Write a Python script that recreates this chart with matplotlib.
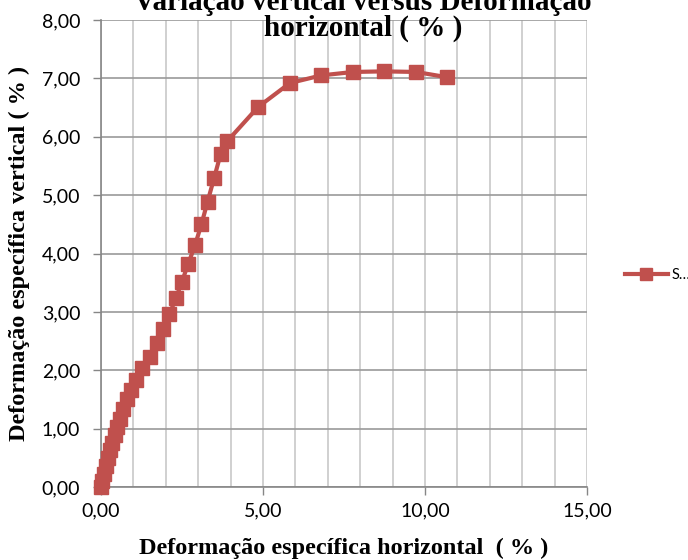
import matplotlib
matplotlib.use('Agg')
import matplotlib.pyplot as plt
from matplotlib.ticker import FuncFormatter, MultipleLocator

# deformação específica horizontal (%) / vertical (%)
horizontal = [0.00, 0.04, 0.10, 0.16, 0.22, 0.28, 0.35, 0.42, 0.50, 0.58,
              0.68, 0.79, 0.93, 1.08, 1.25, 1.50, 1.72, 1.92, 2.11, 2.31,
              2.50, 2.69, 2.90, 3.10, 3.29, 3.49, 3.69, 3.89, 4.85, 5.83,
              6.79, 7.78, 8.73, 9.72, 10.68]
vertical = [0.00, 0.10, 0.22, 0.36, 0.50, 0.63, 0.76, 0.89, 1.02, 1.17,
            1.33, 1.50, 1.66, 1.84, 2.03, 2.23, 2.46, 2.70, 2.96, 3.23,
            3.52, 3.82, 4.14, 4.50, 4.89, 5.29, 5.70, 5.92, 6.51, 6.92,
            7.05, 7.11, 7.12, 7.11, 7.02]
series_name = 'S…'
title = 'Variação vertical versus Deformação\nhorizontal ( % )'

red = '#C0504D'
serif = 'Liberation Serif'
tick_font = 'Lato'

fig = plt.figure(figsize=(6.88, 5.6), dpi=100)
ax = fig.add_axes([101 / 688, 73 / 560, 486 / 688, 467 / 560])

ax.plot(horizontal, vertical, color=red, lw=3, marker='s', ms=10.5,
        markeredgecolor=red, label=series_name, zorder=3, clip_on=False)

ax.set_xlim(0, 15)
ax.set_ylim(0, 8)
ax.xaxis.set_major_locator(MultipleLocator(5))
ax.xaxis.set_minor_locator(MultipleLocator(1))
ax.yaxis.set_major_locator(MultipleLocator(1))
comma = FuncFormatter(lambda v, p: f'{v:.2f}'.replace('.', ','))
ax.xaxis.set_major_formatter(comma)
ax.yaxis.set_major_formatter(comma)

ax.grid(axis='x', which='both', color='#c8c8c8', lw=1.2)
ax.grid(axis='y', which='major', color='#9a9a9a', lw=1.2)
ax.set_axisbelow(True)
for s in ['top', 'right']:
    ax.spines[s].set_visible(False)
for s in ['left', 'bottom']:
    ax.spines[s].set_color('#868686')
    ax.spines[s].set_linewidth(1.2)
ax.tick_params(axis='both', which='major', direction='out', color='#868686',
               length=6, width=1, labelsize=14)
ax.tick_params(axis='y', pad=9)
ax.tick_params(axis='x', pad=5)
ax.tick_params(axis='x', which='minor', length=0)
for lab in ax.get_xticklabels() + ax.get_yticklabels():
    lab.set_fontfamily(tick_font)

ax.set_xlabel('Deformação específica horizontal  ( % )', fontfamily=serif,
              fontweight='bold', fontsize=17.5)
ax.set_ylabel('Deformação específica vertical ( % )', fontfamily=serif,
              fontweight='bold', fontsize=17.5)
ax.xaxis.set_label_coords(0.5, -0.108)
ax.yaxis.set_label_coords(-0.146, 0.5)

# first title line is cut off by the top edge, as in the original
fig.text(363 / 688, 1 - 42 / 560, title, fontfamily=serif, fontweight='bold',
         fontsize=21, ha='center', va='bottom', linespacing=0.95)

leg = ax.legend(loc='center left', bbox_to_anchor=(618 / 688, 1 - 275 / 560),
                bbox_transform=fig.transFigure, frameon=False,
                handlelength=2.9, handletextpad=0.25, borderpad=0,
                prop={'family': tick_font, 'size': 10.5})
for h in leg.legend_handles:
    h.set_markersize(8)

fig.savefig('out.png', dpi=100)
